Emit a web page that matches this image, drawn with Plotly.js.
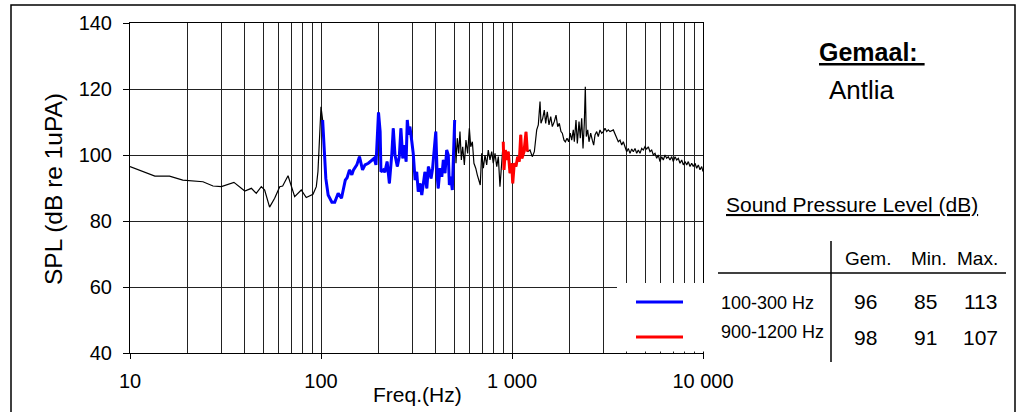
<!DOCTYPE html>
<html>
<head>
<meta charset="utf-8">
<script src="https://cdn.plot.ly/plotly-3.0.1.min.js"></script>
<style>html,body{margin:0;padding:0;background:#fff;}#chart{width:1021px;height:412px;}</style>
</head>
<body>
<div id="chart"></div>
<script>
// ---- data (Hz, dB re 1uPa) ----
const lowFreq = [10, 13.5, 16.1, 18.9, 24.1, 27.2, 30.1, 35.0, 39.9, 43.2, 45.8, 48.7, 50.7, 53.8, 57.2, 60.8, 63, 67.2, 72.8, 78.8, 83.7, 90.8, 94.5, 96.4, 100];
const lowSpl  = [96.5, 93.6, 93.6, 92.4, 91.9, 90.6, 90.4, 91.7, 89.1, 89.9, 88.4, 90.4, 89.4, 84.2, 86.9, 90.4, 90.6, 93.7, 87.4, 89.4, 87.1, 88.1, 90.4, 95.0, 114.6];

const band1Freq = [102, 104, 106, 109, 114, 118, 123, 128, 134, 137, 141, 145, 148, 154, 159, 165, 170, 177, 184, 190, 194, 200, 204, 206, 212, 216, 222, 228, 235, 239, 244, 251, 257, 262, 268, 273, 279, 283, 288, 292, 299, 304, 311, 317, 323, 330, 337, 343, 350, 358, 365, 369, 377, 384, 392, 399, 406, 411, 420, 429, 437, 446, 455, 464, 470, 478, 487, 495, 501];
const band1Spl  = [110.6, 102.0, 92.9, 87.9, 85.7, 85.7, 88.4, 86.9, 92.4, 93.1, 95.5, 94.0, 95.5, 97.0, 99.5, 95.5, 97.0, 97.5, 98.2, 99.0, 97.0, 112.9, 107.1, 94.9, 95.5, 94.8, 98.0, 91.4, 100.5, 108.1, 100.0, 96.5, 99.5, 108.1, 99.0, 103.0, 98.0, 110.6, 106.1, 108.6, 104.0, 100.5, 92.4, 94.9, 88.9, 91.4, 87.9, 91.9, 94.9, 89.9, 96.5, 95.5, 92.9, 96.0, 101.5, 107.1, 93.4, 89.9, 96.0, 93.4, 98.5, 94.5, 101.5, 100.0, 90.9, 93.4, 89.4, 104.5, 110.6];

const midFreq = [509, 517, 526, 534, 543, 552, 563, 574, 586, 598, 608, 620, 632, 646, 658, 672, 682, 694, 708, 722, 737, 751, 767, 783, 798, 815, 832, 848, 865, 883];
const midSpl  = [97.5, 105.1, 100.5, 107.1, 98.5, 102.5, 97.0, 104.5, 100.5, 108.1, 102.5, 104.0, 97.5, 96.0, 94.0, 91.9, 90.9, 100.5, 96.0, 100.0, 97.0, 101.5, 98.5, 101.0, 97.5, 100.5, 96.5, 99.5, 90.4, 97.5];

const band2Freq = [900, 908, 923, 938, 956, 976, 996, 1009, 1028, 1049, 1071, 1092, 1111, 1128, 1156, 1184, 1203];
const band2Spl  = [104.0, 95.5, 101.5, 98.5, 101.0, 94.5, 97.5, 91.4, 97.5, 96.5, 99.5, 98.0, 106.1, 99.0, 101.0, 107.0, 101.0];

const highFreq = [1208, 1242, 1277, 1309, 1347, 1373, 1402, 1418, 1448, 1476, 1501, 1530, 1562, 1595, 1626, 1665, 1700, 1735, 1769, 1805, 1834, 1872, 1902, 1941, 1981, 2019, 2054, 2094, 2120, 2163, 2198, 2243, 2278, 2317, 2354, 2391, 2420, 2449, 2491, 2530, 2582, 2633, 2677, 2720, 2776, 2830, 2889, 2948, 3006, 3068, 3132, 3193, 3259, 3392, 3504, 3602, 3677, 3753, 3826, 3905, 3986, 4064, 4148, 4234, 4317, 4406, 4497, 4585, 4680, 4776, 4869, 4969, 5072, 5171, 5279, 5388, 5493, 5607, 5723, 5835, 5955, 6079, 6196, 6324, 6455, 6581, 6717, 6857, 6991, 7136, 7283, 7426, 7579, 7736, 7888, 8051, 8218, 8375, 8549, 8726, 8896, 9081, 9269, 9450, 9645, 9845, 10000];
const highSpl  = [101.0, 101.5, 99.5, 101.0, 107.6, 109.1, 116.2, 109.6, 111.1, 113.6, 109.6, 113.1, 109.1, 111.6, 108.6, 110.1, 112.1, 108.6, 109.6, 107.1, 106.6, 104.5, 104.0, 105.1, 104.0, 106.6, 104.5, 107.6, 104.0, 110.6, 103.5, 110.1, 105.1, 111.1, 102.0, 109.6, 120.7, 105.6, 107.6, 104.0, 106.6, 104.5, 103.0, 106.1, 107.1, 105.6, 107.6, 106.6, 107.1, 108.1, 107.1, 107.6, 107.1, 107.6, 105.6, 104.0, 104.5, 103.0, 104.0, 102.5, 101.0, 102.0, 100.5, 101.8, 101.0, 102.0, 100.5, 101.5, 100.5, 102.0, 101.5, 102.5, 101.8, 102.5, 101.0, 101.5, 100.0, 100.5, 99.0, 100.0, 98.0, 99.5, 98.5, 100.0, 99.0, 99.5, 98.5, 99.5, 98.0, 99.5, 98.5, 99.0, 97.5, 98.5, 97.0, 98.0, 97.0, 98.0, 96.5, 97.5, 96.5, 97.5, 96.0, 97.0, 95.5, 96.5, 95.0];

const bandNames = ["100-300 Hz", "900-1200 Hz"];
const statHeaders = ["Gem.", "Min.", "Max."];
const statBand1 = [96, 85, 113];
const statBand2 = [98, 91, 107];
const xTickVals = [10, 100, 1000, 10000];
const xTickText = ["10", "100", "1 000", "10 000"];
const minorGrid = [20,30,40,50,60,70,80,90,200,300,400,500,600,700,800,900,2000,3000,4000,5000,6000,7000,8000,9000];

// ---- layout helpers (pixel -> paper) ----
const L = 130, R = 703, T = 23, B = 353;
const px = x => (x - L) / (R - L);
const py = y => (B - y) / (B - T);
const FONT = "Liberation Sans, Arial, sans-serif";

const allFreq = lowFreq.concat(band1Freq, midFreq, band2Freq, highFreq);
const allSpl = lowSpl.concat(band1Spl, midSpl, band2Spl, highSpl);

const traces = [
  {x: allFreq, y: allSpl, mode: "lines", line: {color: "#000", width: 1.2}, hoverinfo: "skip"},
  {x: band1Freq, y: band1Spl, mode: "lines", line: {color: "#0000ff", width: 3}},
  {x: band2Freq, y: band2Spl, mode: "lines", line: {color: "#ff0000", width: 3}}
];

function ann(text, x, y, size, opts) {
  return Object.assign({text: text, x: px(x), y: py(y), xref: "paper", yref: "paper",
    showarrow: false, font: {family: FONT, size: size, color: "#000"},
    xanchor: "center", yanchor: "middle"}, opts || {});
}

const annotations = [
  ann("SPL (dB re 1uPA)", 53, 189, 24.5, {textangle: -90}),
  ann("Freq.(Hz)", 417, 394, 21),
  ann("<b><u>Gemaal: </u></b>", 872, 52, 25),
  ann("Antlia", 862, 90, 26),
  ann("<u>Sound Pressure Level (dB)</u>", 852, 204, 21),
  ann(statHeaders[0], 868, 258, 19),
  ann(statHeaders[1], 929, 258, 19),
  ann(statHeaders[2], 977, 258, 19),
  ann(bandNames[0], 719, 303, 18, {xanchor: "left"}),
  ann(bandNames[1], 719, 332, 18, {xanchor: "left"}),
  ann(String(statBand1[0]), 865, 301, 21),
  ann(String(statBand1[1]), 925, 301, 21),
  ann(String(statBand1[2]), 980, 301, 21),
  ann(String(statBand2[0]), 865, 337, 21),
  ann(String(statBand2[1]), 925, 337, 21),
  ann(String(statBand2[2]), 980, 337, 21)
];

const shapes = [
  {type: "rect", xref: "paper", yref: "paper", x0: px(11), x1: px(1015), y0: py(420), y1: py(5),
   line: {color: "#000", width: 1.5}, fillcolor: "rgba(0,0,0,0)", layer: "below"},
  {type: "rect", xref: "paper", yref: "paper", x0: px(617), x1: px(716), y0: py(351.5), y1: py(283),
   line: {width: 0}, fillcolor: "#fff", layer: "above"},
  {type: "line", xref: "paper", yref: "paper", x0: px(636), x1: px(683), y0: py(302), y1: py(302),
   line: {color: "#0000ff", width: 3}},
  {type: "line", xref: "paper", yref: "paper", x0: px(636), x1: px(683), y0: py(337), y1: py(337),
   line: {color: "#ff0000", width: 3}},
  {type: "line", xref: "paper", yref: "paper", x0: px(831), x1: px(831), y0: py(241), y1: py(362),
   line: {color: "#000", width: 1.5}},
  {type: "line", xref: "paper", yref: "paper", x0: px(718), x1: px(1006), y0: py(273), y1: py(273),
   line: {color: "#000", width: 1.5}}
];

const layout = {
  width: 1021, height: 412,
  margin: {l: L, r: 1021 - R, t: T, b: 412 - B, pad: 0},
  paper_bgcolor: "#fff", plot_bgcolor: "#fff",
  showlegend: false,
  xaxis: {
    type: "log", range: [1, 4], tickmode: "array", tickvals: xTickVals, ticktext: xTickText,
    showgrid: true, gridcolor: "#222", gridwidth: 1,
    minor: {tickmode: "array", tickvals: minorGrid, showgrid: true, gridcolor: "#222", gridwidth: 1, ticks: ""},
    showline: true, linecolor: "#000", linewidth: 1, mirror: true,
    ticks: "outside", ticklen: 5, tickcolor: "#000", ticklabelstandoff: 5,
    tickfont: {family: FONT, size: 20, color: "#000"}, zeroline: false
  },
  yaxis: {
    range: [40, 140], tickmode: "linear", tick0: 40, dtick: 20,
    showgrid: true, gridcolor: "#222", gridwidth: 1,
    showline: true, linecolor: "#000", linewidth: 1, mirror: true,
    ticks: "outside", ticklen: 6, tickcolor: "#000", ticklabelstandoff: 7,
    tickfont: {family: FONT, size: 20, color: "#000"}, zeroline: false
  },
  annotations: annotations,
  shapes: shapes
};

Plotly.newPlot("chart", traces, layout, {staticPlot: true, displayModeBar: false});
</script>
</body>
</html>
